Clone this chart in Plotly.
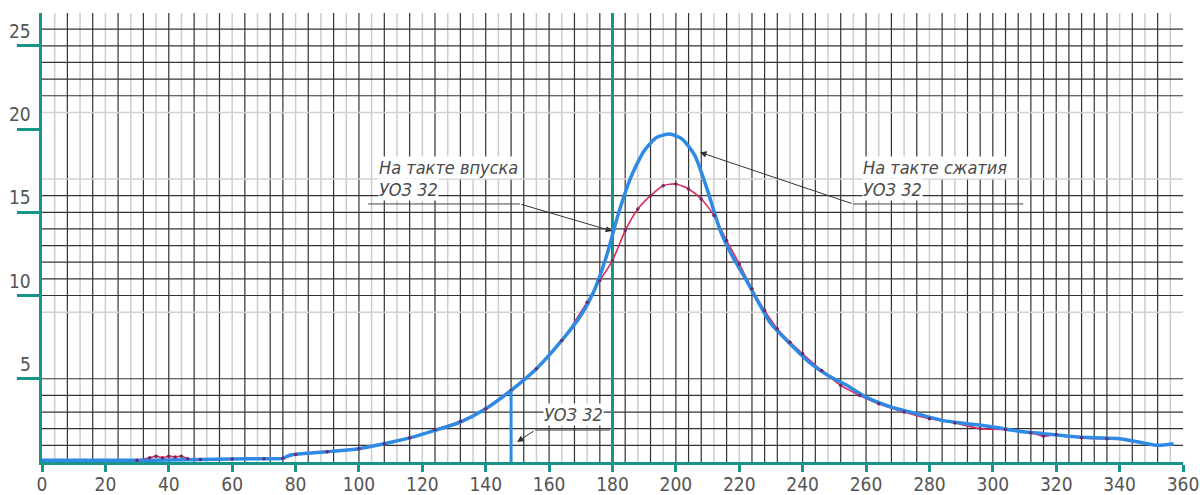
import plotly.graph_objects as go

# ---------------- data ----------------
x_ticks = list(range(0, 361, 20))
y_ticks = [5, 10, 15, 20, 25]

# "На такте сжатия, УОЗ 32" (blue)
blue_x = [0, 10, 20, 30, 40, 50, 60, 70, 76, 78, 82, 90, 100, 108, 116, 124, 132, 140,
          148, 156, 164, 170, 174, 178, 182, 186, 190, 194, 198, 202, 206, 210, 214,
          218, 222, 226, 230, 236, 242, 248, 254, 260, 268, 276, 284, 292, 300, 308,
          316, 324, 332, 340, 346, 352, 357]
blue_y = [0.1, 0.1, 0.1, 0.1, 0.12, 0.15, 0.18, 0.2, 0.22, 0.4, 0.5, 0.62, 0.8, 1.1,
          1.45, 1.9, 2.4, 3.2, 4.3, 5.6, 7.3, 8.8, 10.2, 12.3, 15.0, 17.2, 18.7, 19.5,
          19.7, 19.4, 18.4, 16.3, 13.9, 12.3, 11.0, 9.6, 8.3, 7.1, 6.0, 5.2, 4.6, 3.9,
          3.3, 2.9, 2.5, 2.3, 2.1, 1.85, 1.7, 1.55, 1.45, 1.4, 1.2, 1.0, 1.1]

# "На такте впуска, УОЗ 32" (red)
red_x = [30, 34, 36, 38, 40, 42, 44, 46, 50, 60, 70, 76, 80, 90, 100, 108, 116, 124,
         132, 140, 148, 156, 164, 172, 176, 180, 184, 188, 192, 196, 200, 204, 208,
         212, 216, 220, 224, 228, 232, 236, 240, 246, 252, 258, 264, 272, 280, 288,
         296, 304, 312, 316, 320, 328, 336]
red_y = [0.1, 0.25, 0.35, 0.25, 0.35, 0.3, 0.35, 0.2, 0.15, 0.18, 0.2, 0.22, 0.45,
         0.62, 0.8, 1.1, 1.45, 1.95, 2.45, 3.2, 4.3, 5.6, 7.3, 9.6, 10.9, 12.1, 13.9,
         15.2, 16.0, 16.6, 16.7, 16.4, 15.8, 14.8, 13.3, 11.9, 10.4, 9.1, 8.0, 7.2,
         6.5, 5.5, 4.6, 4.0, 3.5, 3.0, 2.6, 2.35, 2.0, 1.95, 1.75, 1.55, 1.65, 1.45, 1.4]

uoz_x = 148          # ignition advance mark on the blue curve
uoz_y_top = 4.3
tdc_x = 180          # top dead centre line

# grid (CAD drawing grid)
grid_x_dark = [8, 16, 24, 32, 40, 48, 56, 64, 72, 76, 84, 92, 100, 108, 116, 124, 132,
               140, 148, 152, 160, 168, 176, 184, 192, 200, 204, 208, 216, 224, 228, 232,
               240, 244, 252, 260, 268, 276, 284, 292, 296, 300, 304, 308, 312, 316, 320,
               324, 328, 332, 336, 344, 352]
grid_y_dark = [1, 2, 3, 4, 5, 10, 11, 12, 13, 14, 15, 16, 22, 23, 24, 25, 26]
grid_y_light = [9, 17, 21]

# ---------------- styles ----------------
TEAL = "#17958a"
BLUE = "#2e8ae5"
RED = "#e2285c"
TXT = "#4a4a4a"
FONT = "Liberation Sans Narrow, DejaVu Sans Condensed, sans-serif"

fig = go.Figure()

fig.add_trace(go.Scatter(x=red_x, y=red_y, mode="lines",
                         line=dict(color=RED, width=1.6, shape="spline", smoothing=0.6),
                         hoverinfo="skip", showlegend=False))
fig.add_trace(go.Scatter(x=blue_x, y=blue_y, mode="lines",
                         line=dict(color=BLUE, width=3.5, shape="spline", smoothing=0.6),
                         hoverinfo="skip", showlegend=False))
fig.add_trace(go.Scatter(x=red_x, y=red_y, mode="markers",
                         marker=dict(color="#6a2a66", size=3.5),
                         hoverinfo="skip", showlegend=False))
fig.add_trace(go.Scatter(x=[uoz_x, uoz_x], y=[0, uoz_y_top], mode="lines",
                         line=dict(color=BLUE, width=3), hoverinfo="skip", showlegend=False))

shapes = []
# light vertical lines halfway between dark ones
prev = 0
for gx in grid_x_dark + [360]:
    if gx - prev >= 8:
        mid = (gx + prev) / 2
        shapes.append(dict(type="line", xref="x", yref="paper", x0=mid, x1=mid, y0=0, y1=1,
                           line=dict(color="#cdcdcd", width=1.5), layer="below"))
    prev = gx
for gx in grid_x_dark:
    shapes.append(dict(type="line", xref="x", yref="paper", x0=gx, x1=gx, y0=0, y1=1,
                       line=dict(color="#333333", width=1.2), layer="below"))
for gy in grid_y_light:
    shapes.append(dict(type="line", xref="paper", yref="y", x0=0, x1=1, y0=gy, y1=gy,
                       line=dict(color="#d2d2d2", width=1.5), layer="below"))
for gy in grid_y_dark:
    shapes.append(dict(type="line", xref="paper", yref="y", x0=0, x1=1, y0=gy, y1=gy,
                       line=dict(color="#333333", width=1.2), layer="below"))
# TDC line
shapes.append(dict(type="line", xref="x", yref="paper", x0=tdc_x, x1=tdc_x, y0=0, y1=1,
                   line=dict(color=TEAL, width=3), layer="below"))

# underlines of leader notes
shapes += [
    dict(type="line", xref="x", yref="y", x0=102.9, x1=150.8, y0=15.5, y1=15.5,
         line=dict(color="#444", width=1)),
    dict(type="line", xref="x", yref="y", x0=255.9, x1=309.6, y0=15.5, y1=15.5,
         line=dict(color="#444", width=1)),
    dict(type="line", xref="x", yref="y", x0=155.6, x1=179.2, y0=1.92, y1=1.92,
         line=dict(color="#444", width=1)),
]

annotations = []
# y tick labels placed above the tick marks (drawing style)
for yv in y_ticks:
    annotations.append(dict(x=0, y=yv, xref="paper", yref="y", text=str(yv),
                            showarrow=False, xanchor="right", yanchor="middle",
                            xshift=-9, yshift=15,
                            font=dict(family=FONT, size=19, color="#555")))

note_font = dict(family=FONT, size=18, color=TXT)
for (tx, ty, t) in [(106.0, 17.72, "На такте впуска"), (106.0, 16.34, "УОЗ 32"),
                    (258.8, 17.72, "На такте сжатия"), (258.8, 16.34, "УОЗ 32"),
                    (158.1, 2.88, "УОЗ 32")]:
    annotations.append(dict(x=tx, y=ty, xref="x", yref="y", text="<i>" + t + "</i>",
                            showarrow=False, xanchor="left", yanchor="middle",
                            bgcolor="white", font=note_font, borderpad=0))

# leader arrows
for (tipx, tipy, sx, sy) in [(179.9, 13.87, 150.8, 15.5), (207.6, 18.6, 255.9, 15.5),
                             (149.9, 1.2, 155.6, 1.92)]:
    annotations.append(dict(x=tipx, y=tipy, ax=sx, ay=sy, xref="x", yref="y",
                            axref="x", ayref="y", text="", showarrow=True,
                            arrowhead=2, arrowsize=1.3, arrowwidth=1,
                            arrowcolor="#333"))

fig.update_layout(
    width=1200, height=495,
    margin=dict(l=42, r=17, t=13, b=33, autoexpand=False),
    plot_bgcolor="white", paper_bgcolor="white",
    shapes=shapes, annotations=annotations,
    xaxis=dict(range=[0, 360], tickvals=x_ticks, ticktext=[str(v) for v in x_ticks],
               automargin=False, ticklabeloverflow="allow", ticklabelstandoff=-4,
               showgrid=False, zeroline=False, showline=True, linecolor=TEAL, linewidth=3,
               ticks="outside", ticklen=7, tickwidth=2.5, tickcolor=TEAL,
               tickfont=dict(family=FONT, size=19, color="#555")),
    yaxis=dict(range=[0, 26.97], tickvals=y_ticks, showticklabels=False, automargin=False,
               showgrid=False, zeroline=False, showline=True, linecolor=TEAL, linewidth=3,
               ticks="outside", ticklen=22, tickwidth=3, tickcolor=TEAL),
)

fig.write_html("out.html", config={"displayModeBar": False},
               post_script="document.body.style.margin='0';document.body.style.overflow='hidden';")
